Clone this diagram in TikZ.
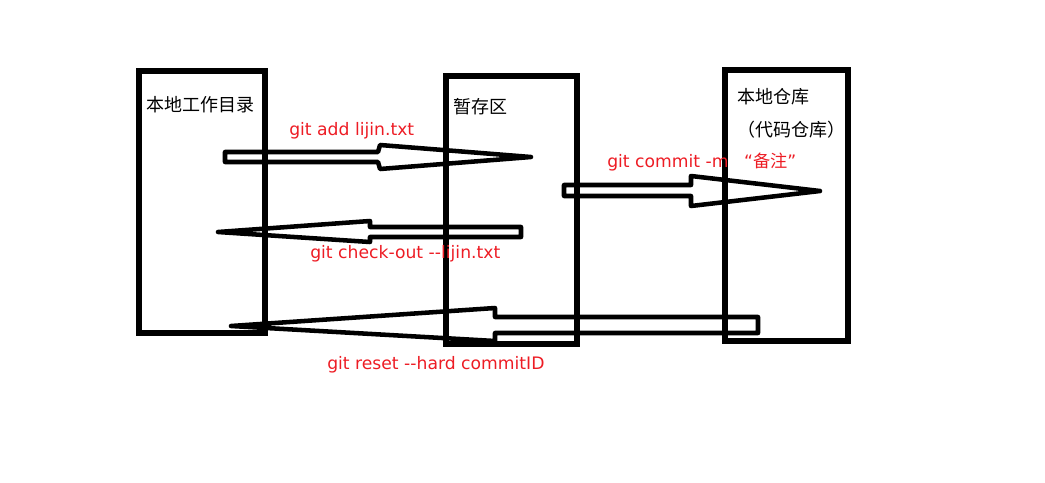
\documentclass[tikz,border=0pt]{standalone}
\usepackage{fontspec}
\setmainfont{DejaVu Sans}
\newfontfamily\cjk{Noto Sans CJK SC}
\definecolor{paintred}{RGB}{237,28,36}
\begin{document}
\begin{tikzpicture}[x=0.75pt,y=-0.75pt,
  areabox/.style={draw=black,line width=3.8pt,inner sep=0pt},
  blockarrow/.style={draw=black,line width=3.4pt,line join=round},
  areatext/.style={anchor=west,inner sep=0pt,font=\cjk\fontsize{13.5pt}{16pt}\selectfont,text=black},
  cmdtext/.style={anchor=base west,inner sep=0pt,font=\fontsize{12.9pt}{15pt}\selectfont,text=paintred}]
\useasboundingbox (0,0) rectangle (1045,482);
% areas
\draw[areabox] (139,71) rectangle (265,333);
\draw[areabox] (446,76) rectangle (577,344);
\draw[areabox] (725,70) rectangle (848,341);
\node[areatext] (work) at (146,105) {本地工作目录};
\node[areatext] (stage) at (453,107) {暂存区};
\node[areatext] (repo) at (737,97) {本地仓库};
\node[areatext] (repo2) at (737,130) {（代码仓库）};
% arrows
\draw[blockarrow] (225,152) -- (378,152) -- (380,145) -- (531,157) -- (380,169) -- (378,162) -- (225,162) -- cycle;
\draw[blockarrow] (564,185) -- (691,185) -- (691,176) -- (820,191) -- (691,206) -- (691,196) -- (564,196) -- cycle;
\draw[blockarrow] (521,227) -- (370,227) -- (370,221) -- (218,232) -- (370,242) -- (370,237) -- (521,237) -- cycle;
\draw[blockarrow] (758,317) -- (495,317) -- (495,308) -- (231,326) -- (495,341) -- (495,333) -- (758,333) -- cycle;
% commands
\node[cmdtext] (add) at (289,135.5) {git add lijin.txt};
\node[cmdtext] (commit) at (607,167) {git commit -m\hspace{0.9em}“{\cjk 备注}”};
\node[cmdtext] (checkout) at (310,258) {git check-out -{}-lijin.txt};
\node[cmdtext] (reset) at (327,369.5) {git reset -{}-hard commitID};
\end{tikzpicture}
\end{document}
